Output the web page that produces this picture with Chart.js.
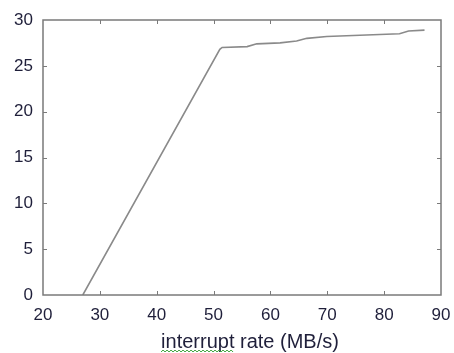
<!DOCTYPE html>
<html><head><meta charset="utf-8">
<script src="https://cdn.jsdelivr.net/npm/chart.js@4/dist/chart.umd.min.js"></script>
<style>html,body{margin:0;padding:0;background:#fff}#wrap{width:454px;height:353px}</style>
</head><body><div id="wrap"><canvas id="c" width="454" height="353"></canvas></div>
<script>
const rateX = [27.0, 51.1, 51.5, 55.9, 57.6, 61.7, 64.6, 66.4, 69.9, 82.7, 84.3, 87.1];
const valueY = [0, 26.8, 27.0, 27.1, 27.4, 27.5, 27.7, 28.0, 28.2, 28.5, 28.8, 28.9];
const xTicks = [20, 30, 40, 50, 60, 70, 80, 90];
const yTicks = [0, 5, 10, 15, 20, 25, 30];
const xTitle = 'interrupt rate (MB/s)';

const pts = rateX.map((x, i) => ({x, y: valueY[i]}));
const frameColor = '#7a7a7a';
const textColor = '#1f1f3a';

const framePlugin = {
  id: 'frame',
  afterDraw(chart) {
    const {ctx, chartArea: a, scales} = chart;
    ctx.save();
    ctx.strokeStyle = frameColor;
    ctx.lineWidth = 1.5;
    ctx.strokeRect(a.left, a.top, a.right - a.left, a.bottom - a.top);
    ctx.lineWidth = 1;
    const L = 4;
    xTicks.forEach(v => {
      const px = Math.round(scales.x.getPixelForValue(v)) + 0.5;
      if (v === xTicks[0] || v === xTicks[xTicks.length - 1]) return;
      ctx.beginPath();
      ctx.moveTo(px, a.bottom); ctx.lineTo(px, a.bottom - L);
      ctx.moveTo(px, a.top); ctx.lineTo(px, a.top + L);
      ctx.stroke();
    });
    yTicks.forEach(v => {
      const py = Math.round(scales.y.getPixelForValue(v)) + 0.5;
      if (v === yTicks[0] || v === yTicks[yTicks.length - 1]) return;
      ctx.beginPath();
      ctx.moveTo(a.left, py); ctx.lineTo(a.left + L, py);
      ctx.moveTo(a.right, py); ctx.lineTo(a.right - L, py);
      ctx.stroke();
    });
    ctx.fillStyle = textColor;
    ctx.font = '20px "Liberation Sans", Arial, sans-serif';
    ctx.textAlign = 'center';
    ctx.textBaseline = 'alphabetic';
    const cx = 250, by = 348;
    ctx.fillText(xTitle, cx, by);
    const w = ctx.measureText(xTitle).width;
    const wordW = ctx.measureText(xTitle.split(' ')[0]).width;
    const sx = cx - w / 2, ex = sx + wordW;
    ctx.strokeStyle = '#3aa23a';
    ctx.lineWidth = 1;
    ctx.beginPath();
    let up = true;
    ctx.moveTo(sx, 352);
    for (let x = sx + 2; x <= ex; x += 2) { ctx.lineTo(x, up ? 350 : 352); up = !up; }
    ctx.stroke();
    ctx.restore();
  }
};

new Chart(document.getElementById('c'), {
  type: 'line',
  data: { datasets: [{ data: pts, borderColor: '#8a8a8a', borderWidth: 1.6, pointRadius: 0, tension: 0, fill: false }] },
  options: {
    responsive: false, animation: false, devicePixelRatio: 1,
    layout: { padding: { top: 20, right: 13, left: 0, bottom: 0 } },
    plugins: { legend: { display: false }, tooltip: { enabled: false } },
    scales: {
      x: {
        type: 'linear', min: 20, max: 90,
        afterBuildTicks: s => { s.ticks = xTicks.map(v => ({value: v})); },
        afterFit: s => { s.height = 58; s.paddingLeft = 0; s.paddingRight = 0; },
        grid: { display: false, drawTicks: false },
        border: { display: false },
        ticks: { color: textColor, padding: 10, font: { size: 17, family: '"Liberation Sans", Arial, sans-serif' } }
      },
      y: {
        min: 0, max: 30,
        afterBuildTicks: s => { s.ticks = yTicks.map(v => ({value: v})); },
        afterFit: s => { s.width = 43; s.paddingTop = 0; s.paddingBottom = 0; },
        grid: { display: false, drawTicks: false },
        border: { display: false },
        ticks: { color: textColor, padding: 10, font: { size: 17, family: '"Liberation Sans", Arial, sans-serif' } }
      }
    }
  },
  plugins: [framePlugin]
});
</script></body></html>
